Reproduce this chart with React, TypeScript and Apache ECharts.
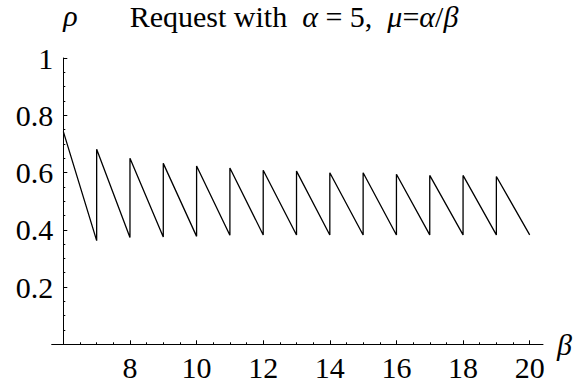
import React, { useEffect, useRef } from "react";
import * as echarts from "echarts";

// β values where the sawtooth jumps
const betaSteps = [6, 7, 8, 9, 10, 11, 12, 13, 14, 15, 16, 17, 18, 19, 20];
// ρ right after each jump (β = 6 … 19)
const rhoAfterJump = [0.743, 0.681, 0.65, 0.632, 0.623, 0.616, 0.608, 0.605, 0.599, 0.599, 0.594, 0.59, 0.59, 0.586];
// ρ just before the next jump (β = 7 … 20)
const rhoBeforeJump = [0.362, 0.373, 0.375, 0.377, 0.381, 0.382, 0.382, 0.382, 0.382, 0.382, 0.382, 0.382, 0.382, 0.382];

const xMajorTicks = [8, 10, 12, 14, 16, 18, 20];
const xMinorTicks = [6.5, 7, 7.5, 8.5, 9, 9.5, 10.5, 11, 11.5, 12.5, 13, 13.5, 14.5, 15, 15.5, 16.5, 17, 17.5, 18.5, 19, 19.5];

const FONT = "Liberation Serif";
const SIZE = 30;

export default function App() {
  const ref = useRef<HTMLDivElement>(null);

  useEffect(() => {
    if (!ref.current) return;
    const chart = echarts.init(ref.current, undefined, { renderer: "svg" });

    const points: number[][] = [];
    for (let i = 0; i < rhoAfterJump.length; i++) {
      points.push([betaSteps[i], rhoAfterJump[i]]);
      points.push([betaSteps[i + 1], rhoBeforeJump[i]]);
    }

    const axisLine = { show: true, lineStyle: { color: "#000", width: 1 } };

    chart.setOption({
      animation: false,
      textStyle: { fontFamily: FONT, fontSize: SIZE, color: "#000" },
      title: {
        text: "Request with  {i|α} = 5,  {i|μ}={i|α}/{i|β}",
        left: "center",
        top: 1,
        padding: 0,
        textStyle: {
          fontFamily: FONT,
          fontSize: SIZE,
          fontWeight: "normal",
          color: "#000",
          rich: {
            i: { fontFamily: FONT, fontSize: SIZE, fontStyle: "italic", color: "#000" },
          },
        },
      },
      grid: { left: 51.7, right: 45, top: 42, bottom: 41.7 },
      xAxis: [
        {
          type: "value",
          min: 5.65,
          max: 20.4,
          position: "bottom",
          axisLine,
          splitLine: { show: false },
          axisTick: {
            show: true,
            inside: true,
            length: 4,
            customValues: xMajorTicks,
            lineStyle: { color: "#000", width: 1 },
          },
          axisLabel: {
            customValues: xMajorTicks,
            fontFamily: FONT,
            fontSize: SIZE,
            color: "#000",
            margin: 8,
          },
          name: "β",
          nameLocation: "end",
          nameGap: 14,
          nameTextStyle: {
            fontFamily: FONT,
            fontSize: SIZE,
            fontStyle: "italic",
            color: "#000",
            verticalAlign: "middle",
            padding: [8, 0, 0, 0],
          },
        },
        {
          type: "value",
          min: 5.65,
          max: 20.4,
          position: "bottom",
          axisLine: { show: false },
          splitLine: { show: false },
          axisTick: {
            show: true,
            inside: true,
            length: 2,
            customValues: xMinorTicks,
            lineStyle: { color: "#000", width: 1 },
          },
          axisLabel: { show: false },
        },
      ],
      yAxis: {
        type: "value",
        min: 0,
        max: 1,
        interval: 0.2,
        position: "left",
        offset: -11.6,
        axisLine,
        splitLine: { show: false },
        axisTick: { show: true, inside: true, length: 4, lineStyle: { color: "#000", width: 1 } },
        minorTick: { show: true, splitNumber: 4, length: 2, lineStyle: { color: "#000", width: 1 } },
        minorSplitLine: { show: false },
        axisLabel: {
          fontFamily: FONT,
          fontSize: SIZE,
          color: "#000",
          margin: 10,
          formatter: (v: number) => (v === 0 ? "" : String(Math.round(v * 10) / 10)),
        },
        name: "ρ",
        nameLocation: "end",
        nameGap: 28,
        nameTextStyle: {
          fontFamily: FONT,
          fontSize: SIZE,
          fontStyle: "italic",
          color: "#000",
          align: "left",
        },
      },
      series: [
        {
          type: "line",
          data: points,
          showSymbol: false,
          symbol: "none",
          lineStyle: { color: "#000", width: 1.3 },
          silent: true,
        },
      ],
    });

    return () => chart.dispose();
  }, []);

  return (
    <div style={{ position: "fixed", left: 0, top: 0, width: 588, height: 386, background: "#fff" }}>
      <div ref={ref} style={{ width: 588, height: 386 }} />
    </div>
  );
}
